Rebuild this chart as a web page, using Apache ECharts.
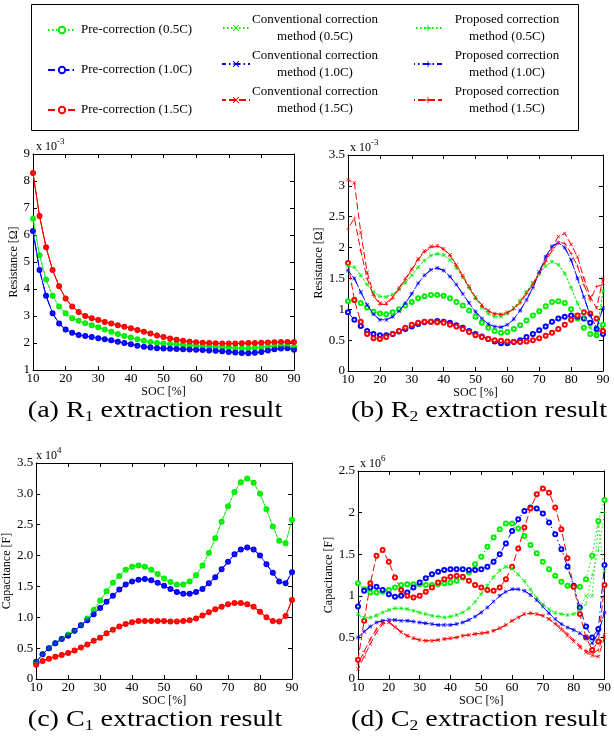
<!DOCTYPE html>
<html><head><meta charset="utf-8">
<script src="https://cdn.jsdelivr.net/npm/echarts@6/dist/echarts.min.js"></script>
<style>html,body{margin:0;padding:0;background:#fff}#c{width:614px;height:746px}</style>
</head><body><div id="c"></div>
<script>
const SOC = [10,12,14,16,18,20,22,24,26,28,30,32,34,36,38,40,42,44,46,48,50,52,54,56,58,60,62,64,66,68,70,72,74,76,78,80,82,84,86,88,90];
const X_TICKS = [10,20,30,40,50,60,70,80,90];

// (a) R1 [x1e-3 ohm] : pre-correction, conventional and proposed curves coincide
const r1_05 = [6.6,5.25,4.35,3.75,3.35,3.1,2.92,2.82,2.73,2.66, 2.58,2.5,2.42,2.33,2.26,2.2,2.14,2.08,2.04,2.0, 1.98,1.96,1.95,1.93,1.92,1.9,1.88,1.87,1.86,1.85, 1.83,1.81,1.8,1.8,1.82,1.84,1.87,1.89,1.9,1.9, 1.85];
const r1_10 = [6.15,4.7,3.75,3.1,2.72,2.5,2.38,2.3,2.26,2.22, 2.18,2.14,2.1,2.05,2.0,1.95,1.9,1.86,1.83,1.81, 1.8,1.79,1.78,1.77,1.76,1.75,1.74,1.72,1.71,1.69, 1.67,1.65,1.63,1.62,1.64,1.67,1.72,1.77,1.8,1.81, 1.75];
const r1_15 = [8.3,6.7,5.55,4.7,4.1,3.65,3.35,3.15,3.0,2.92, 2.85,2.78,2.72,2.66,2.6,2.55,2.48,2.42,2.35,2.28, 2.22,2.17,2.12,2.08,2.05,2.03,2.01,2.0,1.99,1.98, 1.98,1.98,1.99,2.0,2.0,2.01,2.02,2.03,2.04,2.04, 2.04];

// (b) R2 [x1e-3 ohm]
const r2Pre05 = [1.13,1.15,1.1,1.03,0.96,0.93,0.92,0.95,1.0,1.06, 1.12,1.18,1.21,1.23,1.23,1.22,1.18,1.12,1.06,0.98, 0.88,0.78,0.7,0.65,0.62,0.63,0.68,0.74,0.82,0.9, 0.97,1.05,1.12,1.13,1.1,1.0,0.85,0.7,0.6,0.58, 0.75];
const r2Fix05 = [1.7,1.68,1.55,1.4,1.28,1.21,1.2,1.24,1.32,1.43, 1.55,1.68,1.79,1.87,1.9,1.88,1.8,1.67,1.52,1.35, 1.18,1.03,0.93,0.88,0.88,0.93,1.02,1.14,1.28,1.43, 1.57,1.7,1.77,1.72,1.58,1.35,1.1,0.88,0.7,0.6, 1.3];
const r2Pre10 = [0.95,0.83,0.73,0.65,0.6,0.58,0.58,0.6,0.64,0.68, 0.72,0.76,0.79,0.8,0.81,0.8,0.78,0.74,0.7,0.65, 0.6,0.56,0.52,0.48,0.45,0.45,0.47,0.5,0.55,0.6, 0.66,0.72,0.8,0.85,0.88,0.9,0.88,0.85,0.78,0.68, 0.6];
const r2Fix10 = [1.63,1.5,1.28,1.07,0.92,0.83,0.83,0.88,0.97,1.1, 1.25,1.42,1.55,1.64,1.67,1.63,1.53,1.4,1.25,1.1, 0.96,0.85,0.76,0.72,0.71,0.75,0.84,0.98,1.15,1.35, 1.6,1.85,2.02,2.08,2.0,1.8,1.5,1.2,0.9,0.7, 1.02];
const r2Pre15 = [1.75,1.15,0.8,0.6,0.53,0.52,0.55,0.6,0.65,0.7, 0.75,0.78,0.8,0.8,0.79,0.78,0.75,0.72,0.68,0.63, 0.58,0.55,0.52,0.5,0.49,0.48,0.47,0.47,0.48,0.5, 0.53,0.57,0.62,0.68,0.75,0.83,0.9,0.95,0.93,0.85, 0.65];
const r2Conv15 = [3.1,3.05,2.25,1.6,1.25,1.1,1.1,1.2,1.35,1.5, 1.65,1.82,1.95,2.02,2.03,1.98,1.88,1.72,1.55,1.37, 1.2,1.07,0.98,0.93,0.92,0.95,1.02,1.13,1.27,1.42, 1.6,1.8,2.0,2.18,2.23,2.05,1.85,1.5,1.2,1.02, 1.5];
const r2Prop15 = [2.3,2.48,1.95,1.5,1.22,1.08,1.08,1.18,1.33,1.48, 1.64,1.8,1.93,2.0,2.02,1.97,1.87,1.7,1.53,1.35, 1.18,1.05,0.97,0.92,0.91,0.94,1.0,1.1,1.25,1.4, 1.58,1.77,1.95,2.08,2.07,1.9,1.7,1.4,1.15,1.37, 1.4];

// (c) C1 [x1e4 F] : all three methods coincide
const c1_05 = [0.27,0.4,0.5,0.58,0.65,0.72,0.78,0.87,0.98,1.12, 1.27,1.42,1.56,1.67,1.77,1.82,1.84,1.82,1.77,1.7, 1.63,1.57,1.53,1.53,1.58,1.68,1.84,2.04,2.28,2.55, 2.8,3.03,3.19,3.25,3.18,3.0,2.75,2.47,2.24,2.2, 2.58];
const c1_10 = [0.28,0.4,0.5,0.58,0.65,0.7,0.78,0.87,0.95,1.05, 1.15,1.25,1.35,1.45,1.53,1.58,1.61,1.62,1.6,1.56, 1.51,1.46,1.41,1.38,1.38,1.41,1.46,1.55,1.65,1.78, 1.9,2.02,2.1,2.13,2.1,2.0,1.86,1.72,1.58,1.55, 1.73];
const c1_15 = [0.23,0.29,0.33,0.36,0.39,0.42,0.46,0.51,0.56,0.62, 0.67,0.74,0.8,0.85,0.89,0.92,0.94,0.94,0.94,0.94, 0.94,0.93,0.93,0.94,0.95,0.98,1.03,1.08,1.13,1.17, 1.21,1.23,1.23,1.21,1.17,1.09,1.0,0.94,0.93,1.02, 1.28];

// (d) C2 [x1e6 F]
const c2Pre05 = [1.15,1.08,1.04,1.04,1.05,1.07,1.1,1.13,1.14,1.14, 1.14,1.13,1.13,1.14,1.15,1.16,1.18,1.22,1.28,1.38, 1.47,1.59,1.7,1.8,1.87,1.87,1.81,1.72,1.61,1.51, 1.41,1.32,1.24,1.17,1.12,1.11,1.11,1.2,1.48,1.9, 2.15];
const c2Conv05 = [0.78,0.74,0.74,0.76,0.8,0.83,0.85,0.85,0.84,0.82, 0.8,0.78,0.76,0.75,0.74,0.75,0.77,0.8,0.85,0.92, 1.02,1.12,1.22,1.3,1.35,1.33,1.26,1.18,1.08,0.98, 0.9,0.84,0.8,0.78,0.77,0.78,0.85,1.0,1.0,1.85, 1.3];
const c2Prop05 = [0.77,0.73,0.74,0.77,0.8,0.83,0.85,0.85,0.84,0.82, 0.8,0.78,0.76,0.75,0.74,0.75,0.77,0.8,0.85,0.93, 1.03,1.13,1.23,1.31,1.35,1.32,1.25,1.17,1.07,0.97, 0.89,0.83,0.79,0.78,0.77,0.78,0.82,0.9,1.25,1.55, 2.0];
const c2Pre10 = [0.87,1.06,1.1,1.11,1.07,1.02,0.99,1.0,1.04,1.1, 1.16,1.21,1.26,1.29,1.31,1.32,1.32,1.32,1.31,1.31, 1.32,1.35,1.41,1.5,1.63,1.78,1.92,2.02,2.06,2.05, 1.99,1.88,1.74,1.56,1.35,1.12,0.86,0.63,0.5,0.6, 1.37];
const c2Fix10 = [0.5,0.57,0.63,0.68,0.7,0.71,0.71,0.7,0.7,0.69, 0.68,0.67,0.66,0.65,0.65,0.65,0.66,0.68,0.71,0.75, 0.8,0.86,0.93,1.0,1.05,1.08,1.08,1.06,1.01,0.95, 0.87,0.79,0.72,0.66,0.62,0.59,0.55,0.5,0.43,0.55, 0.8];
const c2Pre15 = [0.23,0.7,1.15,1.48,1.55,1.41,1.22,1.07,1.0,0.98, 1.0,1.05,1.1,1.16,1.2,1.23,1.24,1.23,1.18,1.13, 1.1,1.07,1.06,1.1,1.2,1.35,1.57,1.82,2.05,2.22, 2.29,2.24,2.06,1.8,1.45,1.11,0.78,0.5,0.35,0.45, 1.13];
const c2Conv15 = [0.12,0.27,0.42,0.56,0.66,0.68,0.62,0.56,0.52,0.49, 0.47,0.46,0.46,0.47,0.48,0.49,0.5,0.52,0.53,0.54, 0.55,0.56,0.58,0.61,0.65,0.7,0.74,0.78,0.79,0.78, 0.76,0.72,0.66,0.59,0.52,0.45,0.38,0.32,0.28,0.27, 0.5];
const c2Prop15 = [0.18,0.33,0.48,0.6,0.68,0.69,0.63,0.57,0.52,0.49, 0.47,0.46,0.46,0.47,0.48,0.49,0.5,0.52,0.53,0.54, 0.55,0.56,0.58,0.61,0.65,0.7,0.74,0.78,0.79,0.78, 0.76,0.72,0.67,0.61,0.54,0.47,0.4,0.34,0.3,0.35, 0.55];

const Y_TICKS_A = [1,2,3,4,5,6,7,8,9];
const Y_TICKS_B = [0,0.5,1,1.5,2,2.5,3,3.5];
const Y_TICKS_C = ['0','0.5','1.0','1.5','2.0','2.5','3.0','3.5'];
const Y_TICKS_D = [0,0.5,1,1.5,2,2.5];

const NAMES = [
  'Pre-correction (0.5C)','Pre-correction (1.0C)','Pre-correction (1.5C)',
  'Conventional correction method (0.5C)','Conventional correction method (1.0C)','Conventional correction method (1.5C)',
  'Proposed correction method (0.5C)','Proposed correction method (1.0C)','Proposed correction method (1.5C)'];

// order: pre05, pre10, pre15, conv05, conv10, conv15, prop05, prop10, prop15
const PLOT_DATA = [
  [r1_05, r1_10, r1_15, r1_05, r1_10, r1_15, r1_05, r1_10, r1_15],
  [r2Pre05, r2Pre10, r2Pre15, r2Fix05, r2Fix10, r2Conv15, r2Fix05, r2Fix10, r2Prop15],
  [c1_05, c1_10, c1_15, c1_05, c1_10, c1_15, c1_05, c1_10, c1_15],
  [c2Pre05, c2Pre10, c2Pre15, c2Conv05, c2Fix10, c2Conv15, c2Prop05, c2Fix10, c2Prop15]
];

const FONT = 'Liberation Serif';
const COLORS = ['#00ee00', '#0000ff', '#ff0000'];
const DASH = [[1.5, 2.5], [7, 3, 1.5, 3], [7, 3]];
const SYM_X = 'path://M0,1L1,0L5,4L9,0L10,1L6,5L10,9L9,10L5,6L1,10L0,9L4,5Z';
const SYM_P = 'path://M4.4,0H5.6V4.4H10V5.6H5.6V10H4.4V5.6H0V4.4H4.4Z';
const SYMS = ['emptyCircle', SYM_X, SYM_P];

const GRIDS = [
  {left: 33, top: 154, width: 261, height: 216},
  {left: 348, top: 155, width: 255, height: 216},
  {left: 33, top: 463, width: 259, height: 216},
  {left: 358, top: 471, width: 252, height: 208}
];
const YCFG = [
  {min: 1, max: 9, interval: 1, name: 'Resistance [\u03a9]', gap: 11, fmt: v => String(v)},
  {min: 0, max: 3.5, interval: 0.5, name: 'Resistance [\u03a9]', gap: 21, fmt: v => String(v)},
  {min: 0, max: 3.5, interval: 0.5, name: 'Capacitance [F]', gap: 19, fmt: v => v === 0 ? '0' : v.toFixed(1)},
  {min: 0, max: 2.5, interval: 0.5, name: 'Capacitance [F]', gap: 20, fmt: v => String(v)}
];

const axisLine = {show: true, onZero: false, lineStyle: {color: '#000', width: 1}};
const axisTick = {show: true, inside: true, length: 4, lineStyle: {color: '#000'}};
const labelStyle = {color: '#000', fontFamily: FONT, fontSize: 13};

const xAxis = [], yAxis = [], series = [];
GRIDS.forEach((g, i) => {
  xAxis.push({type: 'value', gridIndex: i, min: 10, max: 90, interval: 10, position: 'bottom',
    axisLine, axisTick, splitLine: {show: false},
    axisLabel: Object.assign({margin: 2}, labelStyle),
    name: 'SOC [%]', nameLocation: 'middle', nameGap: 15,
    nameTextStyle: {color: '#000', fontFamily: FONT, fontSize: 12}});
  xAxis.push({type: 'value', gridIndex: i, min: 10, max: 90, interval: 10, position: 'top',
    axisLine, axisTick, splitLine: {show: false}, axisLabel: {show: false}});
  const c = YCFG[i];
  yAxis.push({type: 'value', gridIndex: i, min: c.min, max: c.max, interval: c.interval, position: 'left',
    axisLine, axisTick, splitLine: {show: false},
    axisLabel: Object.assign({margin: 3, formatter: c.fmt}, labelStyle),
    name: c.name, nameLocation: 'middle', nameGap: c.gap, nameRotate: 90,
    nameTextStyle: {color: '#000', fontFamily: FONT, fontSize: 12}});
  yAxis.push({type: 'value', gridIndex: i, min: c.min, max: c.max, interval: c.interval, position: 'right',
    axisLine, axisTick, splitLine: {show: false}, axisLabel: {show: false}});

  PLOT_DATA[i].forEach((arr, k) => {
    const rate = k % 3, method = Math.floor(k / 3);
    series.push({
      type: 'line', name: NAMES[k], xAxisIndex: 2 * i, yAxisIndex: 2 * i,
      data: SOC.map((s, j) => [s, arr[j]]),
      symbol: SYMS[method], symbolSize: 4,
      showSymbol: true,
      lineStyle: {color: COLORS[rate], width: 1, type: DASH[rate], dashOffset: method * 3},
      itemStyle: {color: COLORS[rate], borderColor: COLORS[rate], borderWidth: method === 0 ? 0.8 : 0},
      emphasis: {disabled: true}, animation: false, z: 2 + method
    });
  });
});

const legendText = {color: '#000', fontFamily: FONT, fontSize: 13, lineHeight: 16};
function twoLine(name) {
  const m = name.match(/^(.*correction) (method .*)$/);
  return '{c|' + m[1] + '}\n{c|' + m[2] + '}';
}
const richC = {c: {width: 120, align: 'center', fontFamily: FONT, fontSize: 13, lineHeight: 17, color: '#000'}};
const legends = [
  {data: NAMES.slice(0, 3), left: 47, top: 22, itemGap: 24, textStyle: legendText},
  {data: NAMES.slice(3, 6), left: 221, top: 13, itemGap: 6, formatter: twoLine, textStyle: {rich: richC}},
  {data: NAMES.slice(6, 9), left: 413, top: 13, itemGap: 6, formatter: twoLine, textStyle: {rich: richC}}
].map(l => Object.assign({orient: 'vertical', padding: 0, itemWidth: 28, itemHeight: 8, selectedMode: false}, l));

function expo(x, y, p) {
  return {type: 'text', x: x, y: y, silent: true,
    style: {text: '{b|x 10}{s|' + p + '}', fill: '#000', align: 'left', verticalAlign: 'middle',
      rich: {b: {fontFamily: FONT, fontSize: 12}, s: {fontFamily: FONT, fontSize: 9, padding: [0, 0, 10, 0]}}}};
}
function caption(x, y, pre, sub) {
  return {type: 'text', x: x, y: y, scaleX: 1.17, silent: true,
    style: {text: '{m|' + pre + ' ' + sub[0] + '}{s|' + sub[1] + '}{m| extraction result}',
      fill: '#000', align: 'center', verticalAlign: 'middle',
      rich: {m: {fontFamily: FONT, fontSize: 24}, s: {fontFamily: FONT, fontSize: 15, padding: [12, 0, 0, 0]}}}};
}

const option = {
  backgroundColor: '#fff',
  animation: false,
  grid: GRIDS.map(g => Object.assign({containLabel: false}, g)),
  xAxis, yAxis, series,
  legend: legends,
  graphic: [
    {type: 'rect', shape: {x: 31.5, y: 4.5, width: 547, height: 126}, style: {fill: 'none', stroke: '#000', lineWidth: 1}, silent: true},
    expo(36, 147, '-3'), expo(350, 148, '-3'), expo(36, 456, '4'), expo(360, 464, '6'),
    caption(155, 411, '(a)', 'R1'), caption(479, 411, '(b)', 'R2'),
    caption(155, 720, '(c)', 'C1'), caption(479, 720, '(d)', 'C2')
  ]
};
const chart = echarts.init(document.getElementById('c'));
chart.setOption(option);
</script></body></html>
